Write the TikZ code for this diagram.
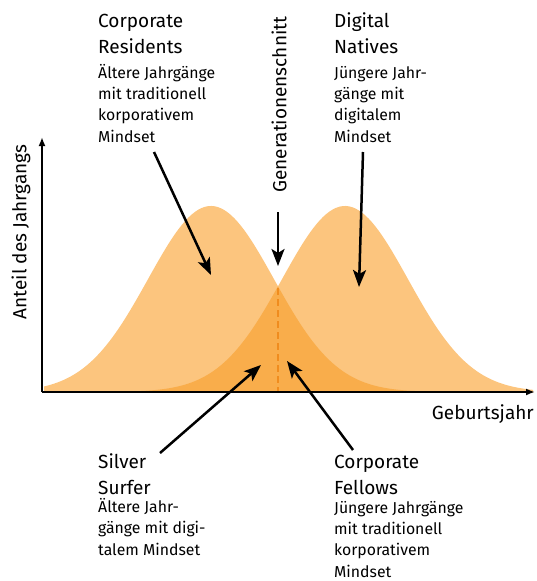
\documentclass[tikz,border=0pt]{standalone}
\usepackage{fontspec}
\setmainfont{Fira Sans}
\usepackage{tikz}
\usetikzlibrary{arrows.meta}
\usetikzlibrary{positioning}

\definecolor{lightorange}{HTML}{FCC57E}
\definecolor{darkorange}{HTML}{F9AD4B}
\definecolor{dashorange}{HTML}{F08C1E}

\begin{document}
\begin{tikzpicture}[x=1pt,y=-1pt]
\tikzset{title/.style={font=\fontsize{19}{26}\selectfont,align=left,anchor=base west,inner sep=0pt},
         body/.style={font=\fontsize{15.8}{21.3}\selectfont,align=left,anchor=base west,inner sep=0pt},
         axislabel/.style={font=\fontsize{19}{22}\selectfont,inner sep=0pt},
         pointer/.style={line width=2.5pt,-{Stealth[length=17pt,width=13pt,inset=4pt]}},
         axis/.style={line width=2.6pt,-{Latex[length=9pt,width=7pt]}}}
\useasboundingbox (0,0) rectangle (536,581);

% the two year groups
\fill[lightorange] (44,392) -- plot[domain=44:533,samples=150] (\x,{392-186*exp(-0.5*((\x-211)/63)*((\x-211)/63))}) -- (533,392) -- cycle;
\fill[lightorange] (44,392) -- plot[domain=44:533,samples=150] (\x,{392-186*exp(-0.5*((\x-345)/63)*((\x-345)/63))}) -- (533,392) -- cycle;
\begin{scope}
\clip (44,392) -- plot[domain=44:533,samples=150] (\x,{392-186*exp(-0.5*((\x-211)/63)*((\x-211)/63))}) -- (533,392) -- cycle;
\fill[darkorange] (44,392) -- plot[domain=44:533,samples=150] (\x,{392-186*exp(-0.5*((\x-345)/63)*((\x-345)/63))}) -- (533,392) -- cycle;
\end{scope}
\draw[dashorange,line width=2pt,dash pattern=on 7pt off 4pt] (278,288) -- (278,392);

% axes
\coordinate (origin) at (42,392);
\coordinate (ytop) at (42,137);
\coordinate (xend) at (535,392);
\draw[axis] (origin) -- (ytop);
\draw[axis] (origin) -- (xend);
\node (ylab) at (21,232) [axislabel,rotate=90] {Anteil des Jahrgangs};
\node (xlab) at (534,419) [axislabel,anchor=base east] {Geburtsjahr};
\node (cut) at (279,193) [axislabel,rotate=90,anchor=west] {Generationenschnitt};

% labels (anchored at the baseline of the last line)
\node (res) at (98,53) [title] {Corporate\\Residents};
\node (restext) at (98,142) [body] {Ältere Jahrgänge\\mit traditionell\\korporativem\\Mindset};
\node (nat) at (334,53) [title] {Digital\\Natives};
\node (nattext) at (334,142) [body] {Jüngere Jahr-\\gänge mit\\digitalem\\Mindset};
\node (surf) at (98,494) [title] {Silver\\Surfer};
\node (surftext) at (98,555) [body] {Ältere Jahr-\\gänge mit digi-\\talem Mindset};
\node (fel) at (334,494) [title] {Corporate\\Fellows};
\node (feltext) at (334,577) [body] {Jüngere Jahrgänge\\mit traditionell\\korporativem\\Mindset};

% pointers
\coordinate (resfrom) at (154,152);
\coordinate (resto) at (211,275);
\coordinate (natfrom) at (363,152);
\coordinate (natto) at (359,287);
\coordinate (cutfrom) at (278,212);
\coordinate (cutto) at (278,266);
\coordinate (surffrom) at (160,453);
\coordinate (surfto) at (261,365);
\coordinate (felfrom) at (353,450);
\coordinate (felto) at (287,361);
\path[pointer]
(resfrom) edge (resto)
(natfrom) edge (natto)
(cutfrom) edge (cutto)
(surffrom) edge (surfto)
(felfrom) edge (felto);
\end{tikzpicture}
\end{document}
